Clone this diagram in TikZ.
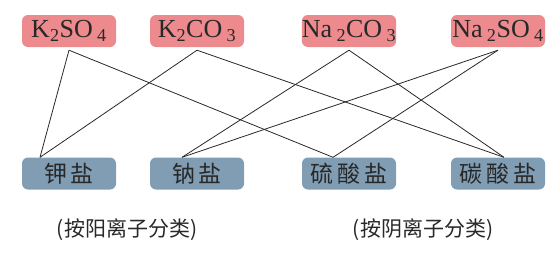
\documentclass[tikz,border=0pt]{standalone}
\usepackage{fontspec}
\setmainfont{Liberation Serif}
\newfontfamily\cjk{Noto Sans CJK SC}
\definecolor{saltpink}{RGB}{236,138,142}
\definecolor{saltblue}{RGB}{128,157,180}
\definecolor{inkgray}{RGB}{40,40,40}

\begin{document}
\begin{tikzpicture}[x=1pt, y=-1pt,
	salt/.style={fill=saltpink, rounded corners=6pt, minimum width=94pt, minimum height=32pt, inner sep=0pt, font=\fontsize{26}{26}\selectfont, text=inkgray},
	kind/.style={salt, fill=saltblue, font=\cjk\fontsize{23}{23}\selectfont},
	link/.style={draw=inkgray, line width=0.8pt}]
	\useasboundingbox (0,0) rectangle (556,258);
	% salts
	\node[salt] (ksulf) at (69,31) {K\textsubscript{2}SO\,\textsubscript{4}};
	\node[salt] (kcarb) at (197,31) {K\textsubscript{2}CO\,\textsubscript{3}};
	\node[salt] (nacarb) at (349,31) {Na\,\textsubscript{2}CO\,\textsubscript{3}};
	\node[salt] (nasulf) at (498,31) {Na\,\textsubscript{2}SO\,\textsubscript{4}};
	% kinds
	\node[kind] (kyan) at (69,173.5) {钾\,盐};
	\node[kind] (nayan) at (197,173.5) {钠\,盐};
	\node[kind] (liusuan) at (349,173.5) {硫\,酸\,盐};
	\node[kind] (tansuan) at (498,173.5) {碳\,酸\,盐};
	% links
	\draw[link] ([yshift=-3pt]ksulf.south) -- ([xshift=-29pt]kyan.north);
	\draw[link] ([yshift=-3pt]ksulf.south) -- ([xshift=-16pt]liusuan.north);
	\draw[link] ([yshift=-3pt]kcarb.south) -- ([xshift=-29pt]kyan.north);
	\draw[link] ([yshift=-3pt]kcarb.south) -- ([xshift=6pt]tansuan.north);
	\draw[link] ([yshift=-3pt]nacarb.south) -- ([xshift=-15pt]nayan.north);
	\draw[link] ([yshift=-3pt]nacarb.south) -- ([xshift=6pt]tansuan.north);
	\draw[link] ([yshift=-3pt]nasulf.south) -- ([xshift=-15pt]nayan.north);
	\draw[link] ([yshift=-3pt]nasulf.south) -- ([xshift=-16pt]liusuan.north);
	% notes
	\node[font=\cjk\fontsize{21}{21}\selectfont, text=inkgray] (bycation) at (127,230) {(按阳离子分类)};
	\node[font=\cjk\fontsize{21}{21}\selectfont, text=inkgray] (byanion) at (423,230) {(按阴离子分类)};
\end{tikzpicture}
\end{document}
